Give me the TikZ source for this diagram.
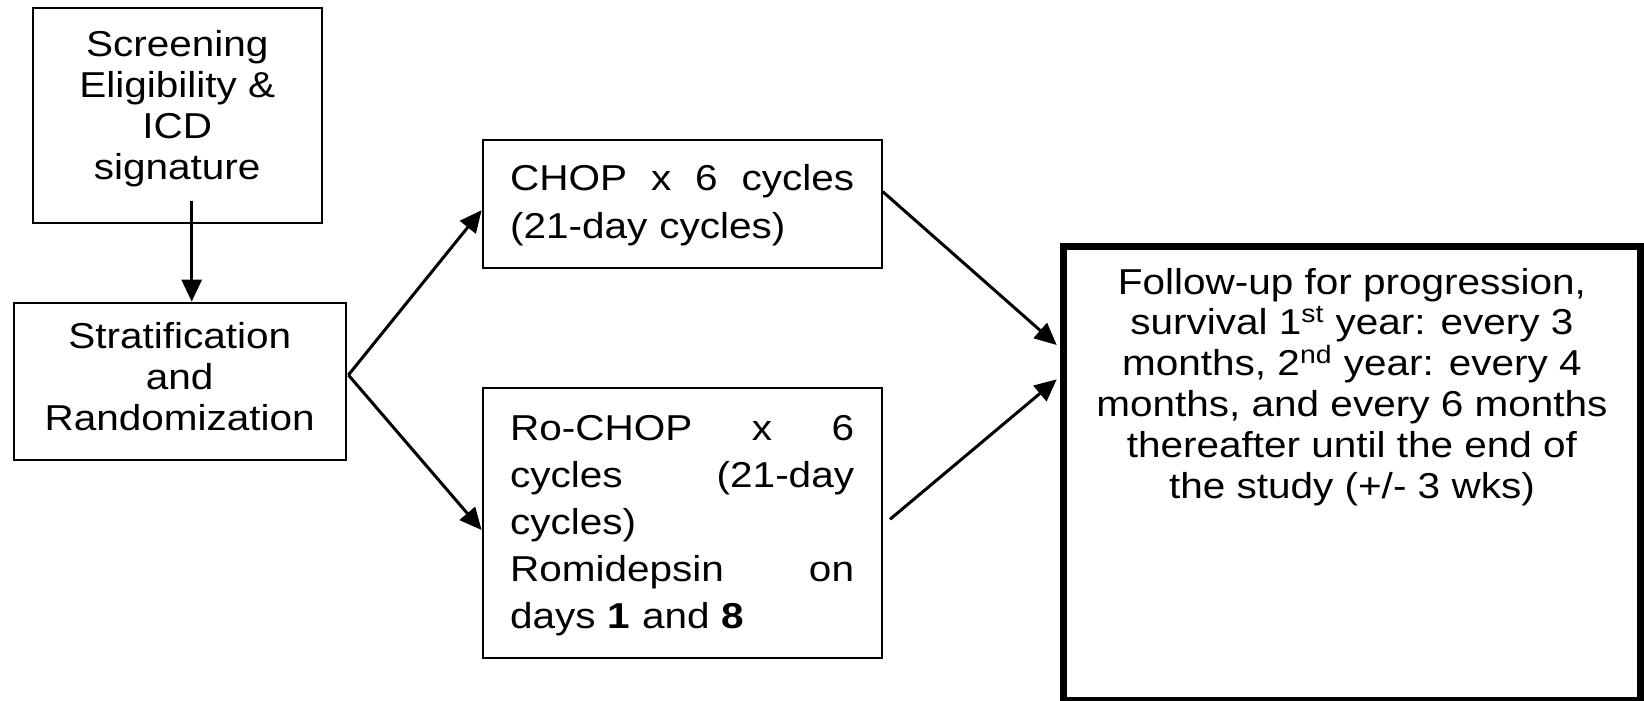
\documentclass[tikz,border=0pt]{standalone}
\usepackage{fontspec}
\setmainfont{Liberation Sans}[FakeStretch=1.125]
\usetikzlibrary{arrows.meta, positioning, calc}

\begin{document}
\begin{tikzpicture}[x=0.5pt, y=-0.5pt,
    box/.style={draw, line width=1.1pt, inner sep=0pt},
    txt/.style={inner sep=0pt, anchor=north, align=center, font=\fontsize{18pt}{20.4pt}\selectfont},
    jtxt/.style={inner sep=0pt, anchor=north west, text width=172pt, align=left},
    arr/.style={-{Triangle[length=11pt,width=10pt]}, line width=1.5pt}]

  \useasboundingbox (0,0) rectangle (1644,701);

  % Boxes
  \node[box, minimum width=144.5pt, minimum height=107.3pt] (scr) at (177.2,115.7) {};
  \node[box, minimum width=166pt, minimum height=78.7pt] (strat) at (179.7,381.4) {};
  \node[box, minimum width=199.5pt, minimum height=63.9pt] (chop) at (682.2,204.2) {};
  \node[box, minimum width=199.5pt, minimum height=135.3pt] (rochop) at (682.2,523) {};
  \node[box, line width=3.5pt, minimum width=288.2pt, minimum height=227.4pt] (fup) at (1351.9,473.4) {};

  % Box texts
  \node[txt] (scrtxt) at (177.2,30.4) {Screening\\Eligibility \&\\ICD\\signature};
  \node[txt, font=\fontsize{18pt}{20.5pt}\selectfont] (strattxt) at (179.7,322) {Stratification\\and\\Randomization};
  \node[jtxt, font=\fontsize{18pt}{24.15pt}\selectfont] (choptxt) at (509.7,163.7)
    {CHOP\hfill x\hfill 6\hfill cycles\\(21-day cycles)};
  \node[jtxt, font=\fontsize{18pt}{23.5pt}\selectfont] (rotxt) at (509.7,415.4)
    {Ro-CHOP\hfill x\hfill 6\\cycles\hfill (21-day\\cycles)\\Romidepsin\hfill on\\days \textbf{1} and \textbf{8}};
  \node[txt] (fuptxt) at (1351.9,267.7)
    {Follow-up for progression,\\survival 1\textsuperscript{st} year: every 3\\months, 2\textsuperscript{nd} year: every 4\\months, and every 6 months\\thereafter until the end of\\the study (+/- 3 wks)};

  % Connectors
  \coordinate (scrout) at ([shift={(7.25pt,11.5pt)}]scr.south);
  \coordinate (split) at ([shift={(0.8pt,3.2pt)}]strat.east);
  \draw[arr] (scrout) -- (scrout |- strat.north);
  \draw[arr] (split) -- ([yshift=-3pt]chop.west);
  \draw[arr] (split) -- ([yshift=-3.5pt]rochop.west);
  \draw[arr] ([yshift=6.25pt]chop.east) -- ([shift={(-1.75pt,64.2pt)}]fup.west);
  \draw[arr] ([shift={(3.6pt,1.85pt)}]rochop.east) -- ([shift={(-1.75pt,47pt)}]fup.west);
\end{tikzpicture}
\end{document}
